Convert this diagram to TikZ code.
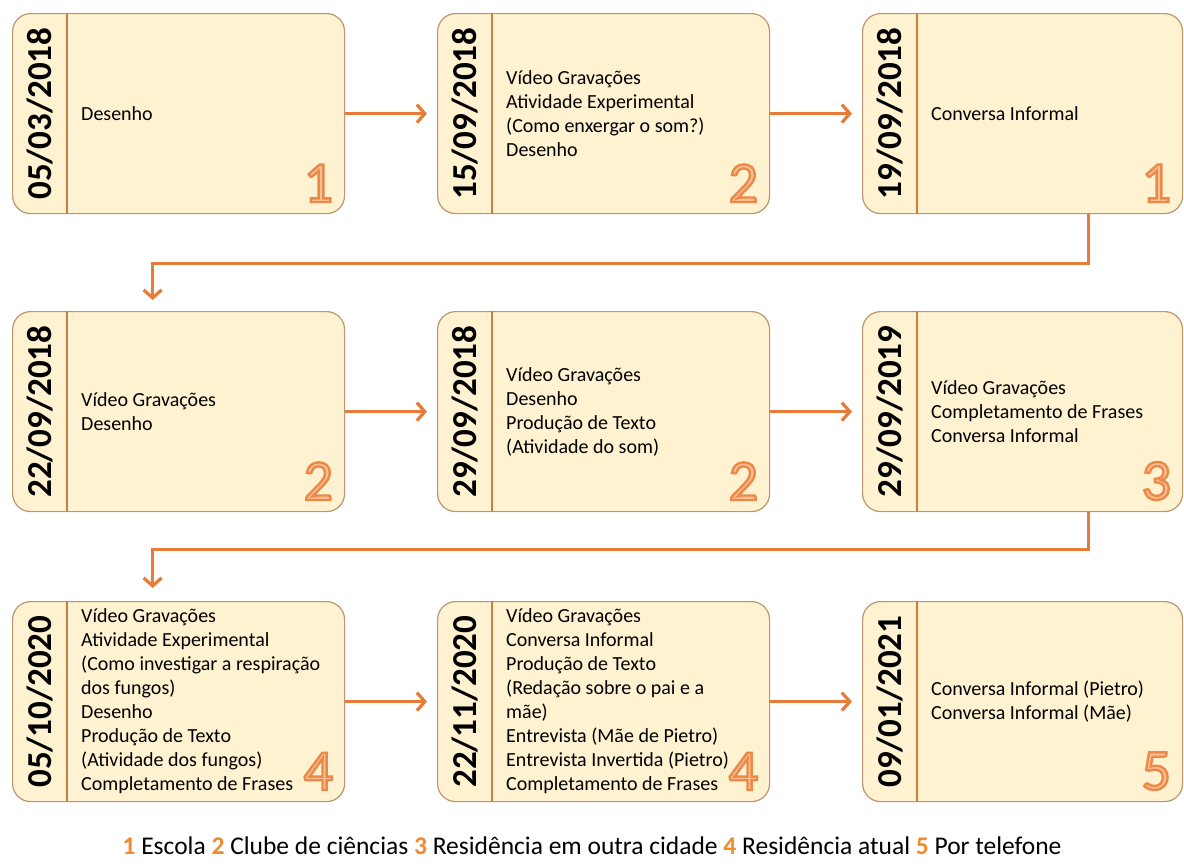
\documentclass[tikz,border=0pt]{standalone}
\usepackage{fontspec}
\setmainfont{Carlito}
\usetikzlibrary{arrows.meta}

\definecolor{boxfill}{RGB}{254,242,208}
\definecolor{boxline}{RGB}{188,150,112}
\definecolor{stripline}{RGB}{200,128,66}
\definecolor{flowline}{RGB}{230,124,56}
\definecolor{tagfill}{RGB}{249,194,150}
\definecolor{keynum}{RGB}{240,138,46}

% outlined place number in the lower right corner of a card
\newcommand\placetag[2]{%
  \node[tagnum] (n#1) at ([xshift=-12pt,yshift=12pt]#1.south east)
    {\special{pdf:literal direct 2 Tr 2.4 w 0.925 0.533 0.282 RG}#2\special{pdf:literal direct 0 Tr}};
}

\begin{document}
\begin{tikzpicture}[x=1pt, y=-1pt,
    card/.style={draw=boxline, line width=1.2pt, fill=boxfill, rounded corners=18pt,
                 anchor=north west, inner sep=0pt, minimum height=200pt},
    strip/.style={draw=stripline, line width=2pt},
    datelbl/.style={rotate=90, inner sep=0pt, font=\fontsize{35}{35}\selectfont\bfseries},
    body/.style={anchor=west, align=left, inner sep=0pt, font=\fontsize{20}{24}\selectfont},
    tagnum/.style={anchor=south east, inner sep=0pt, text=tagfill, font=\fontsize{58}{58}\selectfont},
    flow/.style={draw=flowline, line width=3.2pt, -{Straight Barb[length=8pt,width=18pt]}}]

\useasboundingbox (0,0) rectangle (1184,863);

% row 1
\node[card, minimum width=332pt] (b1) at (12,13) {};
\node[card, minimum width=332pt] (b2) at (437,13) {};
\node[card, minimum width=320pt] (b3) at (862,13) {};
% row 2
\node[card, minimum width=332pt] (b4) at (12,311) {};
\node[card, minimum width=332pt] (b5) at (437,311) {};
\node[card, minimum width=320pt] (b6) at (862,311) {};
% row 3
\node[card, minimum width=332pt] (b7) at (12,601) {};
\node[card, minimum width=332pt] (b8) at (437,601) {};
\node[card, minimum width=320pt] (b9) at (862,601) {};

% date strips
\foreach \b in {b1,b2,b3,b4,b5,b6,b7,b8,b9}
  \draw[strip] ([xshift=55pt]\b.north west) -- ([xshift=55pt]\b.south west);

\node[datelbl] (d1) at ([xshift=28pt]b1.west) {05/03/2018};
\node[datelbl] (d2) at ([xshift=28pt]b2.west) {15/09/2018};
\node[datelbl] (d3) at ([xshift=28pt]b3.west) {19/09/2018};
\node[datelbl] (d4) at ([xshift=28pt]b4.west) {22/09/2018};
\node[datelbl] (d5) at ([xshift=28pt]b5.west) {29/09/2018};
\node[datelbl] (d6) at ([xshift=28pt]b6.west) {29/09/2019};
\node[datelbl] (d7) at ([xshift=28pt]b7.west) {05/10/2020};
\node[datelbl] (d8) at ([xshift=28pt]b8.west) {22/11/2020};
\node[datelbl] (d9) at ([xshift=28pt]b9.west) {09/01/2021};

% activities
\node[body] (t1) at ([xshift=69pt]b1.west) {Desenho};
\node[body] (t2) at ([xshift=69pt]b2.west) {Vídeo Gravações\\Atividade Experimental\\(Como enxergar o som?)\\Desenho};
\node[body] (t3) at ([xshift=69pt]b3.west) {Conversa Informal};
\node[body] (t4) at ([xshift=69pt]b4.west) {Vídeo Gravações\\Desenho};
\node[body] (t5) at ([xshift=69pt]b5.west) {Vídeo Gravações\\Desenho\\Produção de Texto\\(Atividade do som)};
\node[body] (t6) at ([xshift=69pt]b6.west) {Vídeo Gravações\\Completamento de Frases\\Conversa Informal};
\node[body] (t7) at ([xshift=69pt]b7.west) {Vídeo Gravações\\Atividade Experimental\\(Como investigar a respiração\\dos fungos)\\Desenho\\Produção de Texto\\(Atividade dos fungos)\\Completamento de Frases};
\node[body] (t8) at ([xshift=69pt]b8.west) {Vídeo Gravações\\Conversa Informal\\Produção de Texto\\(Redação sobre o pai e a\\mãe)\\Entrevista (Mãe de Pietro)\\Entrevista Invertida (Pietro)\\Completamento de Frases};
\node[body] (t9) at ([xshift=69pt]b9.west) {Conversa Informal (Pietro)\\Conversa Informal (Mãe)};

% places
\placetag{b1}{1}
\placetag{b2}{2}
\placetag{b3}{1}
\placetag{b4}{2}
\placetag{b5}{2}
\placetag{b6}{3}
\placetag{b7}{4}
\placetag{b8}{4}
\placetag{b9}{5}

% connectors
\draw[flow, shorten >=10pt] (b1.east) -- (b2.west);
\draw[flow, shorten >=10pt] (b2.east) -- (b3.west);
\draw[flow] ([xshift=66pt]b3.south) -- ++(0,49) -| ([xshift=-26pt,yshift=11pt]b4.north);
\draw[flow, shorten >=10pt] (b4.east) -- (b5.west);
\draw[flow, shorten >=10pt] (b5.east) -- (b6.west);
\draw[flow] ([xshift=66pt]b6.south) -- ++(0,37) -| ([xshift=-26pt,yshift=13pt]b7.north);
\draw[flow, shorten >=10pt] (b7.east) -- (b8.west);
\draw[flow, shorten >=10pt] (b8.east) -- (b9.west);

% legend
\node[font=\fontsize{25.5}{25.5}\selectfont] (key) at (592,846)
  {{\color{keynum}\bfseries 1} Escola {\color{keynum}\bfseries 2} Clube de ciências
   {\color{keynum}\bfseries 3} Residência em outra cidade {\color{keynum}\bfseries 4} Residência atual
   {\color{keynum}\bfseries 5} Por telefone};
\end{tikzpicture}
\end{document}
